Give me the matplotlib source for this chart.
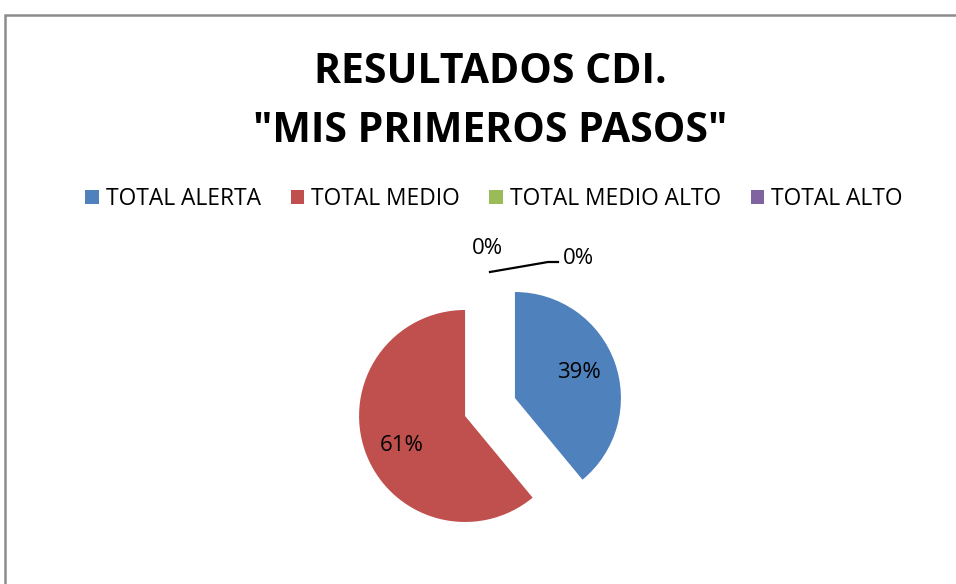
import numpy as np
import matplotlib.pyplot as plt
from matplotlib.patches import Rectangle

# data
categories = ["TOTAL ALERTA", "TOTAL MEDIO", "TOTAL MEDIO ALTO", "TOTAL ALTO"]
values = [39, 61, 0, 0]
colors = ["#4F81BD", "#C0504D", "#9BBB59", "#8064A2"]
explode_frac = [0.25, 0.25, 0.0, 0.0]

plt.rcParams["font.family"] = ["Open Sans", "DejaVu Sans"]

fig = plt.figure(figsize=(9.56, 5.84), dpi=100)
ax = fig.add_axes([0, 0, 1, 1])

# chart frame
fig.patches.append(Rectangle((5 / 956, -0.05), 1.2, (584 - 15) / 584 + 0.05,
                             transform=fig.transFigure, fill=False,
                             edgecolor="#8c8c8c", linewidth=1.8))

# axes in pixel units so the pie stays round
cx, cy, r = 490, 584 - 407, 106
wedges, _ = ax.pie(values, colors=colors, explode=[e * r for e in explode_frac],
                   startangle=90, counterclock=False, center=(cx, cy), radius=r,
                   wedgeprops=dict(linewidth=0), frame=True)
ax.set_xlim(0, 956)
ax.set_ylim(0, 584)
ax.set_aspect("equal")
ax.axis("off")

total = sum(values)
# label distance (fraction of radius) and small vertical nudge for the two real slices
pct_dist = [0.62, 0.66]
nudge = [3, -6]
for w, v, d, n in zip(wedges[:2], values[:2], pct_dist, nudge):
    mid = np.deg2rad((w.theta1 + w.theta2) / 2)
    wx, wy = w.center
    ax.text(wx + d * r * np.cos(mid) + 2, wy + d * r * np.sin(mid) + n,
            f"{round(100 * v / total)}%", ha="center", va="center", fontsize=16)

# zero-valued slices at the top
ax.text(487, 584 - 249, f"{round(100 * values[2] / total)}%", ha="center",
        va="center", fontsize=16)
ax.plot([490, 548, 558], [584 - 272, 584 - 262, 584 - 262], color="black", lw=1.6)
ax.text(578, 584 - 258, f"{round(100 * values[3] / total)}%", ha="center",
        va="center", fontsize=16)

fig.text(490 / 956, 1 - 102 / 584, "RESULTADOS CDI.\n\"MIS PRIMEROS PASOS\"",
         ha="center", va="center", fontsize=29.5, fontweight="bold", linespacing=1.55)

fig.legend(wedges, categories, loc="center", bbox_to_anchor=(494 / 956, 1 - 199 / 584),
           ncol=4, frameon=False, fontsize=16.4, handlelength=0.6, handleheight=0.6,
           handletextpad=0.3, columnspacing=1.3)

fig.savefig("out.png", dpi=100)
